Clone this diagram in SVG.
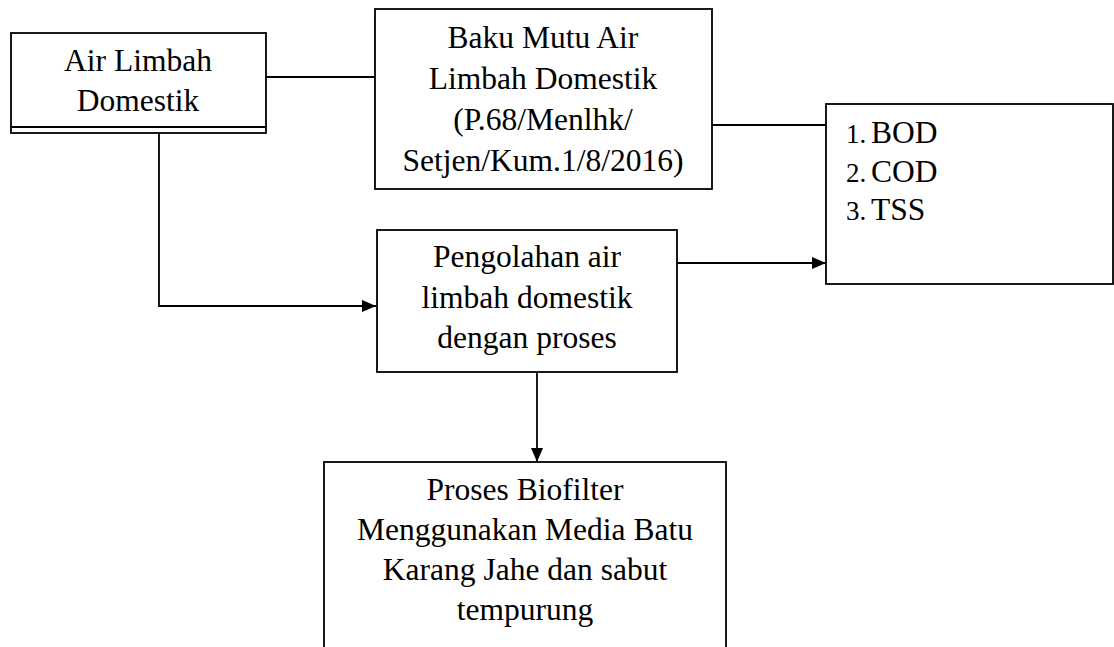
<svg xmlns="http://www.w3.org/2000/svg" width="1114" height="647" viewBox="0 0 1114 647">
<style>
.box{fill:#fff;stroke:#000;stroke-width:1.8}
.ln{fill:none;stroke:#000;stroke-width:1.8}
.t{font-family:"Liberation Serif","Times New Roman",serif;font-size:31.5px;fill:#000;text-anchor:middle}
.l{font-family:"Liberation Serif","Times New Roman",serif;font-size:31.5px;fill:#000}
.n{font-family:"Liberation Serif","Times New Roman",serif;font-size:27px;fill:#000}
</style>
<defs>
<marker id="ah" viewBox="0 0 14 12" refX="14" refY="6" markerWidth="14" markerHeight="12" markerUnits="userSpaceOnUse" orient="auto">
<path d="M0,0 L14,6 L0,12 Z" fill="#000"/>
</marker>
</defs>
<g id="connectors">
<line class="ln" x1="266" y1="77" x2="375" y2="77"/>
<line class="ln" x1="712" y1="125" x2="826" y2="125"/>
<polyline class="ln" points="159,127 159,306 376,306" marker-end="url(#ah)"/>
<line class="ln" x1="677" y1="263" x2="826" y2="263" marker-end="url(#ah)"/>
<line class="ln" x1="537" y1="372" x2="537" y2="462" marker-end="url(#ah)"/>
</g>
<g id="air-limbah">
<rect class="box" x="11" y="33" width="255" height="100"/>
<line class="ln" x1="11" y1="127" x2="266" y2="127"/>
<text class="t" x="138" y="71">Air Limbah</text>
<text class="t" x="138" y="111">Domestik</text>
</g>
<g id="baku-mutu">
<rect class="box" x="375" y="9" width="337" height="180"/>
<text class="t" x="543" y="48">Baku Mutu Air</text>
<text class="t" x="543" y="89">Limbah Domestik</text>
<text class="t" x="543" y="130">(P.68/Menlhk/</text>
<text class="t" x="543" y="171">Setjen/Kum.1/8/2016)</text>
</g>
<g id="parameter">
<rect class="box" x="826" y="104" width="287" height="180"/>
<text class="n" x="846" y="143">1.</text><text class="l" x="871" y="143">BOD</text>
<text class="n" x="846" y="182">2.</text><text class="l" x="871" y="182">COD</text>
<text class="n" x="846" y="220">3.</text><text class="l" x="871" y="220">TSS</text>
</g>
<g id="pengolahan">
<rect class="box" x="377" y="230" width="300" height="142"/>
<text class="t" x="527" y="267">Pengolahan air</text>
<text class="t" x="527" y="308">limbah domestik</text>
<text class="t" x="527" y="348">dengan proses</text>
</g>
<g id="biofilter">
<rect class="box" x="324" y="462" width="402" height="200"/>
<text class="t" x="525" y="500">Proses Biofilter</text>
<text class="t" x="525" y="540">Menggunakan Media Batu</text>
<text class="t" x="525" y="580">Karang Jahe dan sabut</text>
<text class="t" x="525" y="620">tempurung</text>
</g>
</svg>
